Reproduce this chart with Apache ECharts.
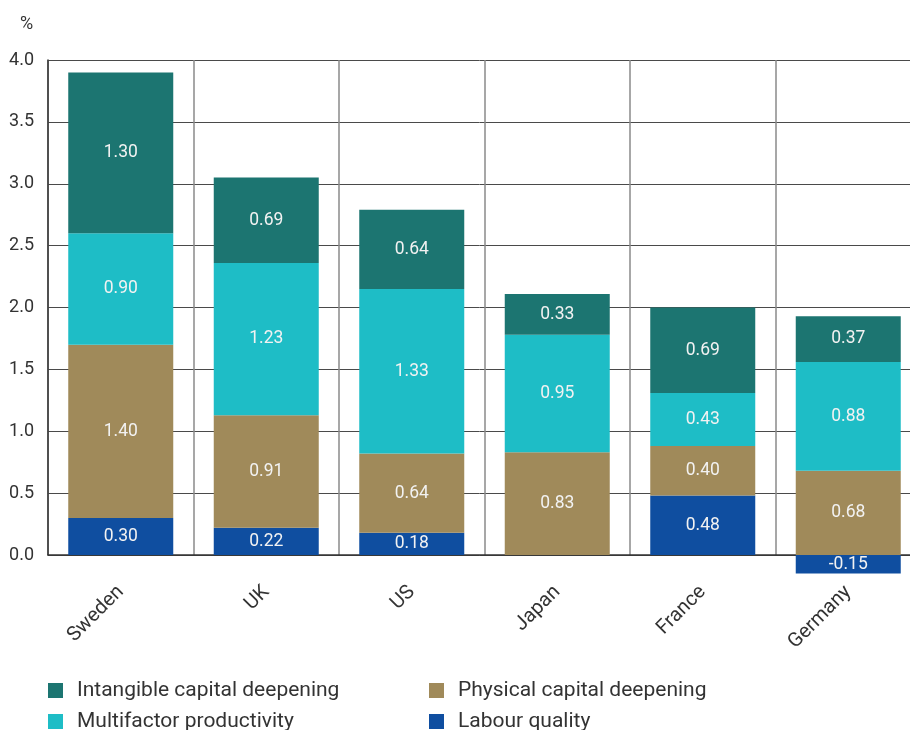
<!DOCTYPE html>
<html>
<head>
<meta charset="utf-8">
<script src="https://cdn.jsdelivr.net/npm/echarts@6/dist/echarts.min.js"></script>
<style>
  html, body { margin: 0; padding: 0; background: #fff; }
  #chart { width: 910px; height: 730px; }
</style>
</head>
<body>
<div id="chart"></div>
<script>
// Contributions to labour productivity growth, percentage points
const countries = ['Sweden', 'UK', 'US', 'Japan', 'France', 'Germany'];
const labourQuality = [0.30, 0.22, 0.18, 0, 0.48, -0.15];
const physicalCapital = [1.40, 0.91, 0.64, 0.83, 0.40, 0.68];
const multifactorProductivity = [0.90, 1.23, 1.33, 0.95, 0.43, 0.88];
const intangibleCapital = [1.30, 0.69, 0.64, 0.33, 0.69, 0.37];

const seriesNames = [
  'Labour quality',
  'Physical capital deepening',
  'Multifactor productivity',
  'Intangible capital deepening'
];
const seriesValues = [labourQuality, physicalCapital, multifactorProductivity, intangibleCapital];
const seriesColors = ['#0f4ea0', '#a08a5a', '#1ebdc6', '#1c7571'];

const FONT = 'Roboto, "DejaVu Sans", sans-serif';
const TEXT = '#333333';

const chart = echarts.init(document.getElementById('chart'), null, { renderer: 'canvas' });

const series = seriesNames.map((name, i) => ({
  name: name,
  type: 'bar',
  stack: 'total',
  barWidth: 105,
  clip: false,
  itemStyle: { color: seriesColors[i] },
  label: {
    show: true,
    position: 'inside',
    color: '#f2f2f2',
    fontFamily: FONT,
    fontSize: 17.5,
    formatter: p => (p.value === 0 ? '' : p.value.toFixed(2))
  },
  emphasis: { disabled: true },
  data: seriesValues[i]
}));

// Legend laid out as two columns of two rows
const legendPlacement = [
  { name: 'Intangible capital deepening', left: 48, top: 680 },
  { name: 'Physical capital deepening', left: 429, top: 680 },
  { name: 'Multifactor productivity', left: 48, top: 711 },
  { name: 'Labour quality', left: 429, top: 711 }
];
const legends = legendPlacement.map(l => ({
  data: [l.name],
  left: l.left,
  top: l.top,
  padding: 0,
  itemWidth: 15,
  itemHeight: 15,
  icon: 'rect',
  selectedMode: false,
  textStyle: {
    fontFamily: FONT,
    fontSize: 21,
    lineHeight: 15,
    color: TEXT,
    padding: [0, 0, 0, 9]
  }
}));

chart.setOption({
  animation: false,
  backgroundColor: '#ffffff',
  title: {
    text: '%',
    left: 15,
    top: 10,
    textStyle: { fontFamily: FONT, fontSize: 18, fontWeight: 'normal', color: TEXT }
  },
  legend: legends,
  grid: {
    left: 48, top: 60, width: 873, height: 495,
    containLabel: false,
    outerBoundsMode: 'none'
  },
  xAxis: {
    type: 'category',
    data: countries,
    boundaryGap: true,
    axisLine: { show: true, lineStyle: { color: '#333333', width: 1.5 } },
    axisTick: { show: false },
    splitLine: { show: true, interval: 0, lineStyle: { color: '#8a8a8a', width: 1.5 } },
    axisLabel: {
      interval: 0,
      rotate: 45,
      margin: 34,
      fontFamily: FONT,
      fontSize: 20,
      color: TEXT
    }
  },
  yAxis: {
    type: 'value',
    min: 0,
    max: 4,
    interval: 0.5,
    axisLine: { show: true, lineStyle: { color: '#333333', width: 1.5 } },
    axisTick: { show: false },
    splitLine: { show: true, lineStyle: { color: '#4a4a4a', width: 1 } },
    axisLabel: {
      margin: 14,
      fontFamily: FONT,
      fontSize: 18,
      color: TEXT,
      formatter: v => v.toFixed(1)
    }
  },
  series: series
});
</script>
</body>
</html>
